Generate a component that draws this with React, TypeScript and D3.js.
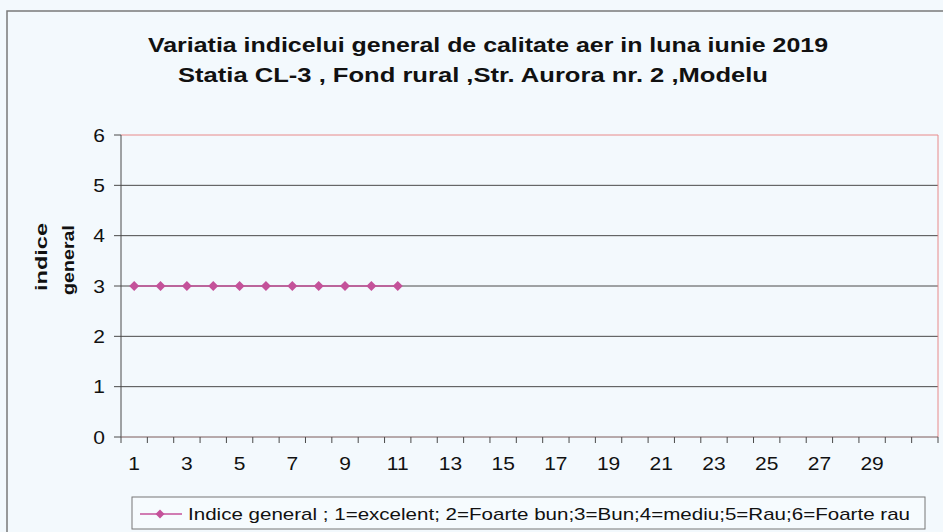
import React from 'react';
import * as d3 from 'd3';

const days = d3.range(1, 32).map(String);
const indiceValues = [3, 3, 3, 3, 3, 3, 3, 3, 3, 3, 3];
const yTicks = [0, 1, 2, 3, 4, 5, 6];
const xTickLabels = days.filter((d, i) => i % 2 === 0 && +d < 31);

const titleLines = [
    'Variatia indicelui general de calitate aer in luna iunie 2019',
    'Statia CL-3 , Fond rural ,Str. Aurora nr. 2 ,Modelu',
];
const titleStart = [148, 178];
const titleWidths = [680, 590];
const legendText = 'Indice  general ; 1=excelent; 2=Foarte bun;3=Bun;4=mediu;5=Rau;6=Foarte rau';

const W = 943, H = 532;
const m = {left: 121, right: 938, top: 135, bottom: 437};
const lineColor = '#c4529a';

// the source picture is stretched sideways, so text gets a horizontal scale
function Wide({x, y, sx = 1.3, anchor = 'start', size, bold = false, children}: any) {
    return (
        <text transform={`translate(${x},${y}) scale(${sx},1)`} textAnchor={anchor} fontSize={size}
              fontWeight={bold ? 'bold' : 'normal'} fill="#111">{children}</text>
    );
}

export default function App() {
    const x = d3.scaleBand().domain(days).range([m.left, m.right]);
    const y = d3.scaleLinear().domain([0, 6]).range([m.bottom, m.top]);
    const pts = indiceValues.map((v, i) => [x(days[i])! + x.bandwidth() / 2, y(v)] as [number, number]);
    const line = d3.line();
    const diamond = (cx: number, cy: number, r: number) =>
        `M${cx},${cy - r}L${cx + r},${cy}L${cx},${cy + r}L${cx - r},${cy}Z`;

    return (
        <svg width={W} height={H} style={{position: 'absolute', left: 0, top: 0}}
             fontFamily="'Liberation Sans', Arial, sans-serif">
            <rect x={0} y={0} width={W} height={H} fill="#f3f9fd"/>
            <path d={`M7,${H}V11H${W}`} fill="none" stroke="#7a7a7a" strokeWidth={1.5}/>
            {titleLines.map((t, i) => (
                <text key={i} x={titleStart[i]} y={52 + i * 30} fontWeight="bold" fontSize={20.5}
                      textLength={titleWidths[i]} lengthAdjust="spacingAndGlyphs" fill="#111">{t}</text>
            ))}
            {yTicks.filter(t => t > 0 && t < 6).map(t => (
                <line key={t} x1={m.left} x2={m.right} y1={y(t)} y2={y(t)} stroke="#4a4a4a" strokeWidth={1}/>
            ))}
            <path d={`M${m.left},${m.top}H${m.right}V${m.bottom}`} fill="none" stroke="#e88a8a" strokeWidth={1}/>
            <line x1={m.left} x2={m.left} y1={m.top} y2={m.bottom} stroke="#4a4a4a"/>
            <line x1={m.left} x2={m.right} y1={m.bottom} y2={m.bottom} stroke="#7a5a5a"/>
            {yTicks.map(t => (
                <g key={t}>
                    <line x1={m.left - 7} x2={m.left} y1={y(t)} y2={y(t)} stroke="#4a4a4a"/>
                    <Wide x={m.left - 16} y={y(t) + 6.5} anchor="end" size={17.5} sx={1.2}>{t}</Wide>
                </g>
            ))}
            {days.map(d => (
                <line key={d} x1={x(d)!} x2={x(d)!} y1={m.bottom} y2={m.bottom + 6} stroke="#4a4a4a"/>
            ))}
            <line x1={m.right} x2={m.right} y1={m.bottom} y2={m.bottom + 6} stroke="#4a4a4a"/>
            {xTickLabels.map(d => (
                <Wide key={d} x={x(d)! + x.bandwidth() / 2} y={470} anchor="middle" size={17.5} sx={1.2}>{d}</Wide>
            ))}
            <text transform={`translate(47,257) rotate(-90)`} textAnchor="middle" fontWeight="bold"
                  fontSize={17} textLength={68} lengthAdjust="spacingAndGlyphs" fill="#111">indice</text>
            <text transform={`translate(74,260) rotate(-90)`} textAnchor="middle" fontWeight="bold"
                  fontSize={17} textLength={70} lengthAdjust="spacingAndGlyphs" fill="#111">general</text>
            <path d={line(pts)!} fill="none" stroke={lineColor} strokeWidth={1.5}/>
            {pts.map(([cx, cy], i) => (
                <path key={i} d={diamond(cx, cy, 5)} fill={lineColor}/>
            ))}
            <rect x={132} y={497} width={793} height={32} fill="#f6fbfe" stroke="#777"/>
            <line x1={140} x2={182} y1={514} y2={514} stroke={lineColor} strokeWidth={1.5}/>
            <path d={diamond(160, 514, 4.5)} fill={lineColor}/>
            <text x={188} y={520} fontSize={17} textLength={722} lengthAdjust="spacingAndGlyphs"
                  fill="#111">{legendText}</text>
        </svg>
    );
}
